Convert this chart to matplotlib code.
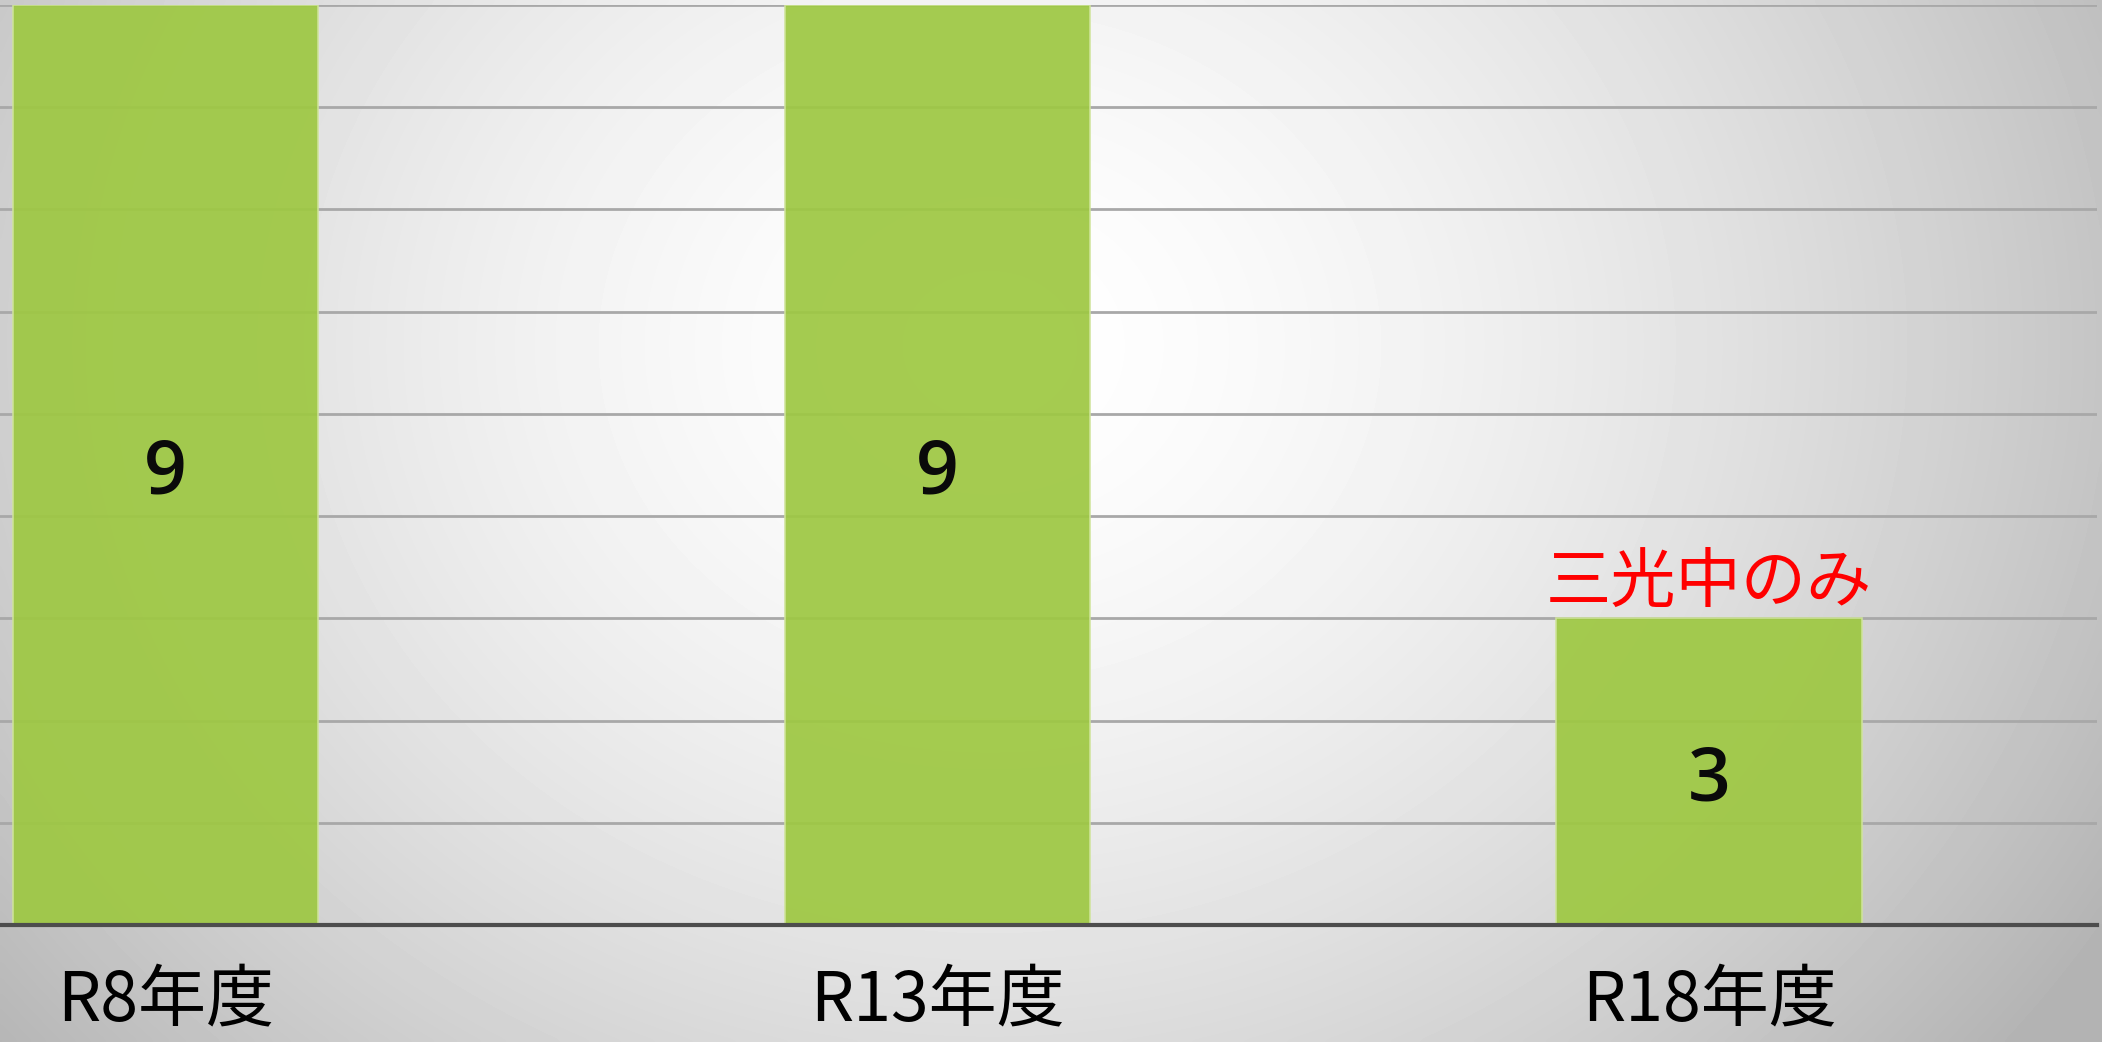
import matplotlib
matplotlib.use("Agg")
import matplotlib.pyplot as plt
import numpy as np

plt.rcParams["font.family"] = ["Noto Sans CJK JP", "DejaVu Sans"]

# data
years = ["R8年度", "R13年度", "R18年度"]
counts = [9, 9, 3]
note_text = "三光中のみ"
note_index = 2

BAR_COLOR = "#9ec843"
EDGE_COLOR = "#cfe49a"

fig = plt.figure(figsize=(21.02, 10.42), dpi=100)

# soft radial grey background
bg = fig.add_axes([0, 0, 1, 1], zorder=-10)
h, w = 260, 520
yy, xx = np.mgrid[0:h, 0:w]
dx = (xx / w - 0.47) / 0.55
dy = (yy / h - 0.33) / 0.95
d = np.sqrt(dx ** 2 + dy ** 2)
gray = np.clip(255 - 62 * d ** 1.6, 180, 255) / 255.0
bg.imshow(gray, cmap="gray", vmin=0, vmax=1, aspect="auto",
          extent=[0, 1, 0, 1], interpolation="bicubic")
bg.set_axis_off()

ax = fig.add_axes([0, 0.112, 0.9975, 0.8835])
ax.set_facecolor("none")
x = np.arange(len(years))

ax.bar(x, counts, width=0.396, color=BAR_COLOR, edgecolor=EDGE_COLOR,
       linewidth=1.2, alpha=0.93, zorder=3)

ax.set_xlim(-0.2145, 2.502)
ax.set_ylim(0, 9)
ax.set_yticks(range(1, 10))
ax.yaxis.grid(True, color="#a8a8a8", linewidth=2.0, zorder=1)
ax.tick_params(axis="y", left=False, labelleft=False)
ax.tick_params(axis="x", bottom=False, pad=27, labelsize=49)
ax.set_xticks(x)
ax.set_xticklabels(years, va="top")

for side in ("top", "right", "left"):
    ax.spines[side].set_visible(False)
ax.spines["bottom"].set_color("#4d4d4d")
ax.spines["bottom"].set_linewidth(3)
ax.spines["bottom"].set_zorder(5)

# value labels in the middle of each bar
for xi, v in zip(x, counts):
    ax.annotate(str(v), (xi, v / 2), xytext=(0, -7), textcoords="offset points",
                ha="center", va="center", fontsize=54, fontweight="semibold",
                family=["Open Sans", "DejaVu Sans"], color="#0a0a0a", zorder=6)

ax.text(x[note_index], counts[note_index] + 0.02, note_text, ha="center",
        va="bottom", fontsize=47, color="#ff0000", zorder=6)

fig.savefig("out.png", dpi=100)
